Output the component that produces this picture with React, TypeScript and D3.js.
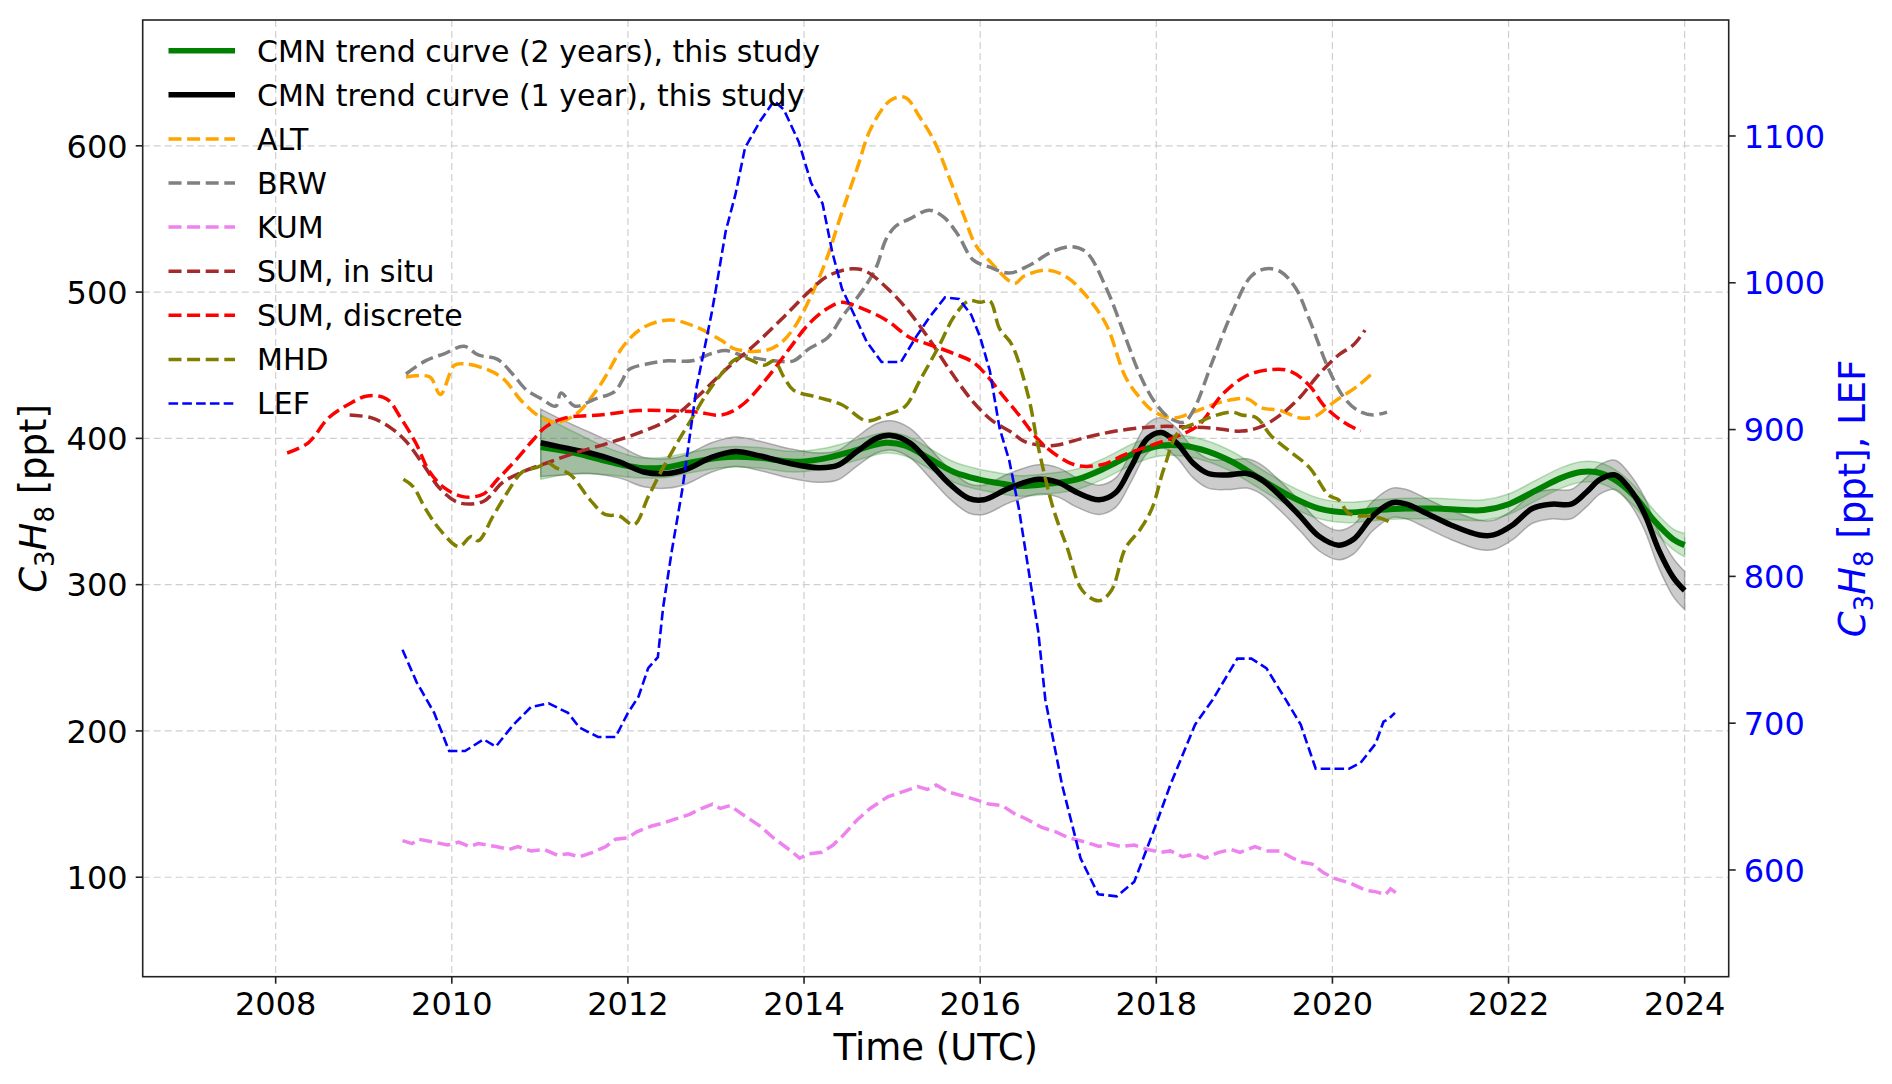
import React from 'react';
import * as d3 from 'd3';

type Pt = [number, number];
type BandPt = [number, number, number]; // year, value, half-width of band

const xTicks = [2008, 2010, 2012, 2014, 2016, 2018, 2020, 2022, 2024];
const leftTicks = [100, 200, 300, 400, 500, 600];
const rightTicks = [600, 700, 800, 900, 1000, 1100];

// CMN trend curves (left axis)
const cmn2yr: BandPt[] = [
    [2011.01, 394, 22], [2011.4, 390, 14], [2011.79, 384, 9], [2012.12, 380, 7], [2012.4, 380, 7],
    [2012.67, 383, 7], [2013.06, 387, 7], [2013.44, 387, 7], [2013.88, 384, 7], [2014.21, 386, 7],
    [2014.54, 391, 7], [2014.93, 397, 7], [2015.15, 395, 7], [2015.43, 386, 7], [2015.7, 377, 7],
    [2015.98, 372, 7], [2016.25, 369, 7], [2016.44, 367.5, 7], [2016.77, 369, 7], [2017.1, 372, 7],
    [2017.43, 380, 7], [2017.76, 390, 7], [2018.04, 395, 7], [2018.31, 395, 7], [2018.59, 391, 7],
    [2018.86, 384, 7], [2019.19, 372, 7], [2019.52, 360.5, 7], [2019.85, 352, 7], [2020.18, 349.4, 7],
    [2020.51, 351, 7], [2020.84, 352, 7], [2021.17, 352, 7], [2021.5, 351, 7], [2021.72, 351, 7],
    [2022.0, 355, 7], [2022.33, 365, 7], [2022.6, 373, 7], [2022.82, 377, 7], [2022.99, 377, 7],
    [2023.2, 372, 7], [2023.43, 360.5, 7], [2023.65, 344, 7], [2023.87, 331, 7], [2024.0, 327, 8],
];

const cmn1yr: BandPt[] = [
    [2011.01, 397, 23], [2011.24, 394, 19], [2011.57, 390, 14], [2011.9, 384, 11], [2012.18, 377, 10],
    [2012.45, 376, 10], [2012.67, 379, 10], [2012.95, 387, 10], [2013.22, 391, 10], [2013.5, 388, 10],
    [2013.83, 383, 10], [2014.16, 380, 10], [2014.38, 381.5, 10], [2014.6, 391, 10], [2014.82, 400, 10],
    [2014.99, 402, 10], [2015.2, 397, 10], [2015.43, 383, 10], [2015.65, 369, 10], [2015.87, 359, 10],
    [2016.04, 358, 10], [2016.33, 366, 10], [2016.66, 372, 10], [2016.88, 370, 10], [2017.1, 363, 10],
    [2017.35, 358, 10], [2017.54, 363, 10], [2017.71, 380, 10], [2017.9, 400, 10], [2018.06, 404, 10],
    [2018.23, 397, 10], [2018.42, 383, 10], [2018.59, 376, 10], [2018.81, 375, 10], [2019.03, 376, 10],
    [2019.19, 372, 10], [2019.41, 360.5, 10], [2019.63, 347, 10], [2019.85, 333, 10], [2020.07, 327, 10],
    [2020.24, 331, 10], [2020.46, 347, 10], [2020.68, 356, 10], [2020.84, 355, 10], [2021.06, 349, 10],
    [2021.34, 341, 10], [2021.67, 334, 10], [2021.83, 334, 10], [2022.05, 341, 10], [2022.27, 352, 10],
    [2022.49, 355, 10], [2022.71, 355, 10], [2022.88, 363, 10], [2023.04, 372, 10], [2023.21, 375, 10],
    [2023.37, 366, 10], [2023.54, 349, 11], [2023.7, 324.5, 12], [2023.87, 305, 13], [2024.0, 296, 13],
];

const alt: Pt[] = [
    [2009.48, 442], [2009.75, 442], [2009.87, 430], [2010.03, 450], [2010.14, 451], [2010.36, 448],
    [2010.58, 441], [2010.8, 425], [2011.02, 414], [2011.18, 411], [2011.4, 416], [2011.68, 436],
    [2011.96, 464], [2012.18, 476], [2012.48, 481], [2012.78, 476], [2013.06, 467], [2013.22, 461],
    [2013.55, 460], [2013.71, 464], [2013.88, 475], [2014.1, 500], [2014.27, 525], [2014.4, 549],
    [2014.6, 584], [2014.76, 612], [2014.98, 631], [2015.15, 633], [2015.31, 620], [2015.48, 603],
    [2015.65, 578], [2015.81, 553], [2015.95, 532], [2016.11, 521], [2016.39, 506], [2016.5, 511],
    [2016.77, 515], [2016.99, 510], [2017.21, 497], [2017.43, 478], [2017.65, 442], [2017.81, 428],
    [2017.98, 418], [2018.2, 414], [2018.42, 418], [2018.75, 425], [2019.03, 427], [2019.19, 421],
    [2019.41, 419], [2019.63, 414], [2019.8, 415], [2020.02, 425], [2020.29, 436], [2020.48, 446],
];

const brw: Pt[] = [
    [2009.48, 444], [2009.7, 453], [2009.92, 458], [2010.14, 463], [2010.3, 457], [2010.52, 454],
    [2010.69, 444], [2010.85, 433], [2011.02, 427], [2011.18, 422], [2011.24, 431], [2011.4, 422],
    [2011.63, 427], [2011.85, 432], [2011.93, 439], [2012.01, 447], [2012.23, 451], [2012.45, 453],
    [2012.73, 453], [2012.95, 458], [2013.11, 460], [2013.28, 457], [2013.44, 455], [2013.66, 453],
    [2013.88, 453], [2014.05, 461], [2014.27, 469], [2014.43, 483], [2014.65, 500], [2014.82, 517],
    [2014.93, 536], [2015.04, 545], [2015.2, 550], [2015.42, 556], [2015.59, 551], [2015.75, 539],
    [2015.92, 522], [2016.11, 517], [2016.33, 513], [2016.55, 518], [2016.83, 528], [2017.05, 531],
    [2017.21, 527], [2017.43, 503], [2017.65, 469], [2017.81, 444], [2017.98, 425], [2018.15, 414],
    [2018.31, 411], [2018.42, 419], [2018.64, 453], [2018.86, 486], [2019.08, 511], [2019.25, 516],
    [2019.41, 514], [2019.58, 503], [2019.74, 481], [2019.96, 447], [2020.13, 428], [2020.29, 419],
    [2020.46, 416], [2020.62, 418],
];

const kum: Pt[] = [
    [2009.44, 125], [2009.55, 123], [2009.62, 126], [2009.8, 124], [2009.95, 122], [2010.08, 124],
    [2010.2, 121], [2010.3, 123], [2010.5, 121], [2010.65, 119], [2010.75, 121], [2010.9, 118],
    [2011.05, 119], [2011.2, 115], [2011.32, 116], [2011.45, 114], [2011.6, 117], [2011.75, 121],
    [2011.86, 126], [2012.0, 127], [2012.1, 131], [2012.27, 135], [2012.4, 137], [2012.55, 140],
    [2012.7, 143], [2012.8, 146], [2012.96, 150], [2013.05, 147], [2013.16, 149], [2013.3, 143],
    [2013.5, 135], [2013.65, 127], [2013.85, 118], [2013.95, 113], [2014.05, 116], [2014.2, 117],
    [2014.33, 122], [2014.45, 129], [2014.6, 139], [2014.75, 147], [2014.95, 155], [2015.1, 158],
    [2015.29, 162], [2015.4, 160], [2015.5, 163], [2015.65, 158], [2015.84, 155], [2016.0, 152],
    [2016.1, 150], [2016.25, 149], [2016.4, 143], [2016.52, 140], [2016.7, 134], [2016.86, 131],
    [2017.0, 127], [2017.2, 124], [2017.35, 121], [2017.45, 123], [2017.6, 121], [2017.75, 122],
    [2017.9, 119], [2018.05, 117], [2018.16, 118], [2018.3, 114], [2018.44, 116], [2018.55, 113],
    [2018.71, 117], [2018.85, 119], [2018.95, 117], [2019.12, 121], [2019.25, 118], [2019.4, 118],
    [2019.55, 113], [2019.67, 110], [2019.77, 109], [2019.9, 103], [2020.03, 99], [2020.2, 96],
    [2020.38, 91], [2020.5, 90], [2020.6, 88], [2020.66, 92], [2020.73, 89],
];

const sumInSitu: Pt[] = [
    [2008.84, 416], [2009.09, 414], [2009.31, 407], [2009.48, 398], [2009.7, 380], [2009.86, 366],
    [2010.08, 356], [2010.36, 357], [2010.58, 370], [2010.8, 377], [2011.07, 383], [2011.4, 390],
    [2011.79, 397], [2012.18, 405], [2012.5, 414], [2012.78, 428], [2013.11, 447], [2013.44, 464],
    [2013.77, 483], [2014.05, 500], [2014.27, 511], [2014.55, 516], [2014.71, 514], [2014.99, 500],
    [2015.2, 486], [2015.43, 467], [2015.65, 447], [2015.92, 425], [2016.14, 412], [2016.36, 404],
    [2016.5, 398], [2016.72, 395], [2016.88, 395.5], [2017.16, 400], [2017.54, 405], [2017.98, 408],
    [2018.31, 408], [2018.64, 407], [2018.97, 405], [2019.19, 408], [2019.41, 416], [2019.63, 428],
    [2019.85, 444], [2020.07, 457], [2020.24, 464], [2020.37, 474],
];

const sumDiscrete: Pt[] = [
    [2008.13, 390], [2008.37, 397], [2008.6, 414], [2008.82, 423], [2009.04, 429], [2009.26, 427],
    [2009.42, 414], [2009.59, 397], [2009.75, 377], [2009.92, 366], [2010.14, 360], [2010.36, 362],
    [2010.52, 372], [2010.74, 386], [2010.91, 398], [2011.07, 408], [2011.29, 414], [2011.68, 416],
    [2012.12, 419], [2012.45, 419], [2012.78, 418], [2013.06, 416], [2013.28, 422], [2013.55, 439],
    [2013.83, 461], [2014.05, 478], [2014.27, 489], [2014.43, 493], [2014.65, 489], [2014.93, 481],
    [2015.2, 469], [2015.43, 464], [2015.7, 458], [2015.92, 452], [2016.09, 442], [2016.22, 432],
    [2016.44, 416], [2016.66, 399], [2016.88, 388], [2017.1, 381.5], [2017.38, 382], [2017.65, 389],
    [2017.98, 396], [2018.26, 402], [2018.48, 409], [2018.75, 430], [2019.03, 443], [2019.3, 447],
    [2019.52, 446], [2019.74, 436], [2019.91, 422], [2020.13, 411], [2020.32, 405],
];

const mhd: Pt[] = [
    [2009.45, 372], [2009.56, 367], [2009.7, 352], [2009.86, 338], [2010.08, 326], [2010.22, 333],
    [2010.3, 330], [2010.47, 347], [2010.63, 363], [2010.8, 377], [2010.96, 380], [2011.1, 383],
    [2011.18, 380], [2011.35, 375], [2011.57, 358], [2011.74, 348], [2011.9, 347], [2012.07, 341],
    [2012.23, 360], [2012.4, 380], [2012.56, 397], [2012.73, 414], [2012.89, 430], [2013.06, 444],
    [2013.22, 454], [2013.33, 455], [2013.55, 450], [2013.66, 453], [2013.77, 442], [2013.88, 433],
    [2014.16, 428], [2014.43, 423], [2014.71, 412], [2014.93, 416], [2015.15, 422], [2015.31, 439],
    [2015.54, 464], [2015.7, 483], [2015.87, 494], [2016.0, 493], [2016.11, 494], [2016.22, 475],
    [2016.36, 464], [2016.55, 428], [2016.66, 394], [2016.83, 352], [2016.99, 325], [2017.16, 296],
    [2017.35, 289], [2017.49, 296], [2017.65, 325], [2017.82, 338], [2017.95, 352], [2018.09, 380],
    [2018.26, 405], [2018.48, 411], [2018.64, 415], [2018.86, 418], [2018.97, 416], [2019.14, 414],
    [2019.3, 402], [2019.52, 391], [2019.74, 380], [2019.96, 361], [2020.07, 358], [2020.18, 349],
    [2020.29, 347], [2020.4, 347], [2020.57, 345], [2020.68, 342],
];

// LEF on the right axis
const lef: Pt[] = [
    [2009.44, 750], [2009.6, 728], [2009.8, 707], [2009.97, 681], [2010.15, 681], [2010.36, 689],
    [2010.5, 684], [2010.7, 699], [2010.9, 711], [2011.1, 713.5], [2011.32, 707], [2011.45, 697],
    [2011.66, 690.6], [2011.86, 690.6], [2012.0, 707], [2012.12, 718], [2012.23, 737.5], [2012.34, 745],
    [2012.4, 779], [2012.5, 818], [2012.62, 860], [2012.78, 929], [2012.95, 979], [2013.0, 996],
    [2013.11, 1035], [2013.22, 1060], [2013.33, 1092], [2013.5, 1110], [2013.66, 1124], [2013.77, 1118],
    [2013.94, 1096], [2014.08, 1068], [2014.21, 1054], [2014.32, 1021], [2014.43, 996], [2014.54, 982],
    [2014.71, 960], [2014.88, 946], [2015.1, 946], [2015.27, 963], [2015.43, 977], [2015.6, 990],
    [2015.76, 989], [2015.9, 978], [2016.0, 963], [2016.11, 940], [2016.22, 901], [2016.33, 879],
    [2016.44, 846], [2016.55, 804], [2016.66, 762], [2016.74, 716], [2016.93, 658], [2017.14, 608],
    [2017.34, 583.5], [2017.55, 582], [2017.75, 592], [2017.96, 625], [2018.16, 658], [2018.44, 699],
    [2018.64, 716], [2018.92, 744], [2019.08, 744], [2019.25, 737.5], [2019.47, 716], [2019.64, 699],
    [2019.81, 669], [2020.19, 669], [2020.32, 673], [2020.49, 686], [2020.58, 701], [2020.64, 703],
    [2020.71, 707],
];

const FONT = 'DejaVu Sans, Verdana, sans-serif';

export default function App() {
    const width = 1892;
    const height = 1084;
    const left = 142.7;
    const right = 1728.7;
    const top = 20;
    const bottom = 976.7;

    const x = d3.scaleLinear().domain([2006.49, 2024.5]).range([left, right]);
    const yL = d3.scaleLinear().domain([32, 686]).range([bottom, top]);
    const yR = d3.scaleLinear().domain([527.3, 1179]).range([bottom, top]);

    const smoothL = d3.line<Pt>().x((d) => x(d[0])).y((d) => yL(d[1])).curve(d3.curveCatmullRom.alpha(0.5));
    const linearL = d3.line<Pt>().x((d) => x(d[0])).y((d) => yL(d[1]));
    const linearR = d3.line<Pt>().x((d) => x(d[0])).y((d) => yR(d[1]));
    const trendLine = d3.line<BandPt>().x((d) => x(d[0])).y((d) => yL(d[1])).curve(d3.curveCatmullRom.alpha(0.5));
    const band = d3
        .area<BandPt>()
        .x((d) => x(d[0]))
        .y0((d) => yL(d[1] - d[2]))
        .y1((d) => yL(d[1] + d[2]))
        .curve(d3.curveCatmullRom.alpha(0.5));

    const series = [
        { label: 'ALT', path: smoothL(alt), color: 'orange', w: 3.5, dash: '13,5.6' },
        { label: 'BRW', path: smoothL(brw), color: 'gray', w: 3.5, dash: '13,5.6' },
        { label: 'KUM', path: linearL(kum), color: 'violet', w: 3.5, dash: '13,5.6' },
        { label: 'SUM, in situ', path: smoothL(sumInSitu), color: 'brown', w: 3.5, dash: '13,5.6' },
        { label: 'SUM, discrete', path: smoothL(sumDiscrete), color: 'red', w: 3.5, dash: '13,5.6' },
        { label: 'MHD', path: smoothL(mhd), color: 'olive', w: 3.5, dash: '13,5.6' },
    ];

    const legend = [
        { label: 'CMN trend curve (2 years), this study', color: 'green', w: 5.5, dash: 'none' },
        { label: 'CMN trend curve (1 year), this study', color: 'black', w: 5.5, dash: 'none' },
        ...series.map((s) => ({ label: s.label, color: s.color, w: s.w, dash: s.dash })),
        { label: 'LEF', color: 'blue', w: 2.6, dash: '9.6,4.2' },
    ];

    const c3h8 = (size: number) => [
        <tspan key="c" fontStyle="italic">C</tspan>,
        <tspan key="3" fontSize={size * 0.7} dy={size * 0.22}>3</tspan>,
        <tspan key="h" fontStyle="italic" dy={-size * 0.22}>H</tspan>,
        <tspan key="8" fontSize={size * 0.7} dy={size * 0.22}>8</tspan>,
    ];

    return (
        <svg
            width={width}
            height={height}
            style={{ position: 'absolute', left: 0, top: 0, background: '#fff' }}
            fontFamily={FONT}
        >
            <defs>
                <clipPath id="plot">
                    <rect x={left} y={top} width={right - left} height={bottom - top} />
                </clipPath>
            </defs>

            {/* grid */}
            <g stroke="#cfcfcf" strokeWidth={1.2} strokeDasharray="7,4">
                {xTicks.map((t) => (
                    <line key={'gx' + t} x1={x(t)} x2={x(t)} y1={top} y2={bottom} />
                ))}
                {leftTicks.map((t) => (
                    <line key={'gy' + t} x1={left} x2={right} y1={yL(t)} y2={yL(t)} />
                ))}
            </g>

            <g clipPath="url(#plot)">
                {/* uncertainty bands */}
                <path d={band(cmn1yr) || ''} fill="gray" fillOpacity={0.4} stroke="gray" strokeOpacity={0.6} strokeWidth={1.5} />
                <path d={band(cmn2yr) || ''} fill="green" fillOpacity={0.2} stroke="green" strokeOpacity={0.25} strokeWidth={1.5} />
                <path d={trendLine(cmn2yr) || ''} fill="none" stroke="green" strokeWidth={6} />
                <path d={trendLine(cmn1yr) || ''} fill="none" stroke="black" strokeWidth={5.5} />

                {series.map((s) => (
                    <path
                        key={s.label}
                        d={s.path || ''}
                        fill="none"
                        stroke={s.color}
                        strokeWidth={s.w}
                        strokeDasharray={s.dash}
                    />
                ))}

                <path d={linearR(lef) || ''} fill="none" stroke="blue" strokeWidth={2.6} strokeDasharray="9.6,4.2" />
            </g>

            {/* frame */}
            <rect x={left} y={top} width={right - left} height={bottom - top} fill="none" stroke="#222" strokeWidth={1.6} />

            {/* x axis */}
            <g fontSize={32} fill="#000" textAnchor="middle">
                {xTicks.map((t) => (
                    <g key={'xt' + t}>
                        <line x1={x(t)} x2={x(t)} y1={bottom} y2={bottom + 7} stroke="#222" strokeWidth={1.6} />
                        <text x={x(t)} y={1015}>{t}</text>
                    </g>
                ))}
            </g>
            <text x={(left + right) / 2} y={1060} fontSize={37} textAnchor="middle">
                Time (UTC)
            </text>

            {/* left axis */}
            <g fontSize={32} fill="#000" textAnchor="end">
                {leftTicks.map((t) => (
                    <g key={'yl' + t}>
                        <line x1={left - 7} x2={left} y1={yL(t)} y2={yL(t)} stroke="#222" strokeWidth={1.6} />
                        <text x={left - 15} y={yL(t) + 11.7}>{t}</text>
                    </g>
                ))}
            </g>
            <text transform={`translate(46, ${(top + bottom) / 2}) rotate(-90)`} fontSize={37} textAnchor="middle" fill="#000">
                {c3h8(37)}
                <tspan dy={-37 * 0.22}> [ppt]</tspan>
            </text>

            {/* right axis */}
            <g fontSize={32} fill="blue" textAnchor="start">
                {rightTicks.map((t) => (
                    <g key={'yr' + t}>
                        <line x1={right} x2={right + 7} y1={yR(t)} y2={yR(t)} stroke="#222" strokeWidth={1.6} />
                        <text x={right + 15} y={yR(t) + 11.7}>{t}</text>
                    </g>
                ))}
            </g>
            <text transform={`translate(1865, ${(top + bottom) / 2}) rotate(-90)`} fontSize={37} textAnchor="middle" fill="blue">
                {c3h8(37)}
                <tspan dy={-37 * 0.22}> [ppt], LEF</tspan>
            </text>

            {/* legend */}
            <g fontSize={30}>
                {legend.map((l, i) => {
                    const ly = 50.7 + i * 44.1;
                    return (
                        <g key={'lg' + l.label}>
                            <line x1={168.5} x2={235} y1={ly} y2={ly} stroke={l.color} strokeWidth={l.w} strokeDasharray={l.dash} />
                            <text x={257} y={ly + 10.9} fill="#000">
                                {l.label}
                            </text>
                        </g>
                    );
                })}
            </g>
        </svg>
    );
}
